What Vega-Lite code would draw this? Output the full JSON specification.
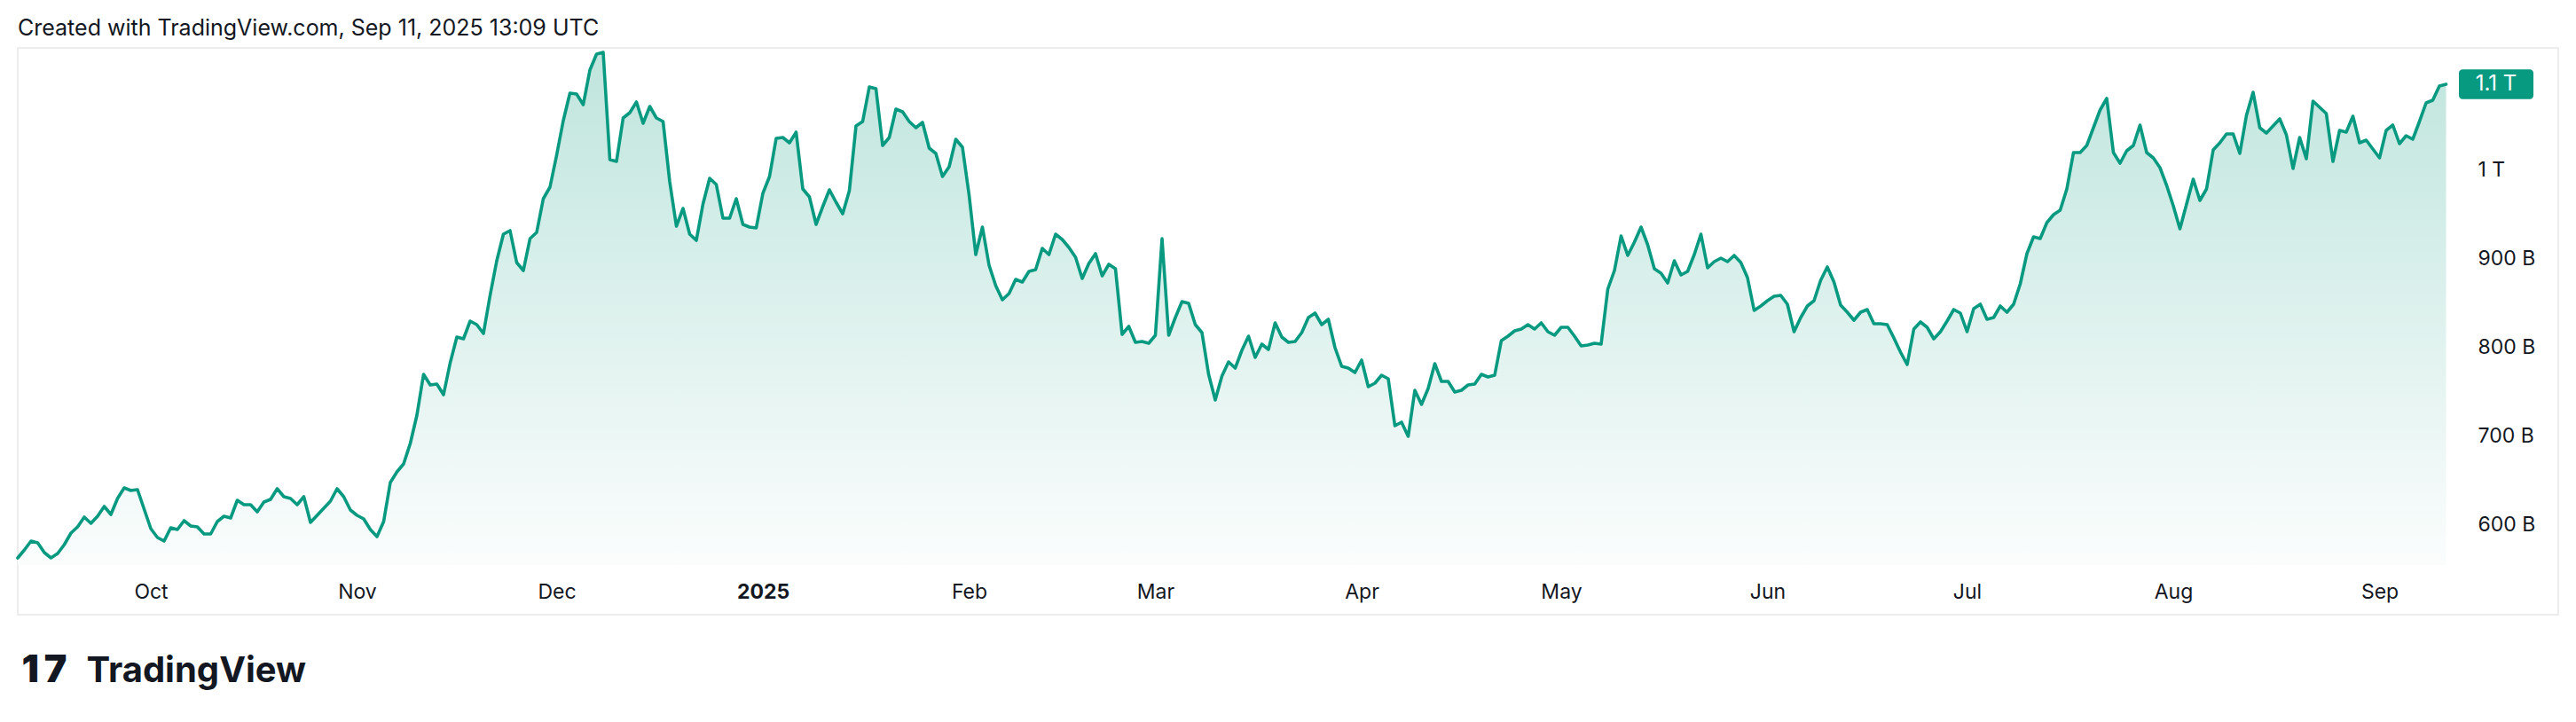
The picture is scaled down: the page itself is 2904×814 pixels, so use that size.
{
"$schema": "https://vega.github.io/schema/vega-lite/v6.json",
"autosize": "none",
"width": 2864,
"height": 639,
"padding": {"left": 20, "top": 54, "right": 20, "bottom": 121},
"background": "#ffffff",
"config": {"view": {"stroke": "#ececec", "strokeWidth": 2}},
"title": {"text": "Created with TradingView.com, Sep 11, 2025 13:09 UTC", "anchor": "start", "frame": "group", "offset": 14, "dy": 25, "baseline": "alphabetic", "font": "Inter", "fontSize": 25, "fontWeight": 400, "color": "#131722"},
"data": {"values": [
{"date":"2024-09-11","cap_b":562},{"date":"2024-09-12","cap_b":571},{"date":"2024-09-13","cap_b":581},{"date":"2024-09-14","cap_b":579},{"date":"2024-09-15","cap_b":568},{"date":"2024-09-16","cap_b":562},{"date":"2024-09-17","cap_b":567},{"date":"2024-09-18","cap_b":577},{"date":"2024-09-19","cap_b":590},{"date":"2024-09-20","cap_b":597},{"date":"2024-09-21","cap_b":608},{"date":"2024-09-22","cap_b":601},{"date":"2024-09-23","cap_b":609},{"date":"2024-09-24","cap_b":620},{"date":"2024-09-25","cap_b":611},{"date":"2024-09-26","cap_b":629},{"date":"2024-09-27","cap_b":641},{"date":"2024-09-28","cap_b":638},{"date":"2024-09-29","cap_b":639},{"date":"2024-09-30","cap_b":617},
{"date":"2024-10-01","cap_b":595},{"date":"2024-10-02","cap_b":585},{"date":"2024-10-03","cap_b":581},{"date":"2024-10-04","cap_b":596},{"date":"2024-10-05","cap_b":594},{"date":"2024-10-06","cap_b":604},{"date":"2024-10-07","cap_b":598},{"date":"2024-10-08","cap_b":597},{"date":"2024-10-09","cap_b":589},{"date":"2024-10-10","cap_b":589},{"date":"2024-10-11","cap_b":603},{"date":"2024-10-12","cap_b":609},{"date":"2024-10-13","cap_b":607},{"date":"2024-10-14","cap_b":627},{"date":"2024-10-15","cap_b":622},{"date":"2024-10-16","cap_b":622},{"date":"2024-10-17","cap_b":614},{"date":"2024-10-18","cap_b":625},{"date":"2024-10-19","cap_b":628},{"date":"2024-10-20","cap_b":640},{"date":"2024-10-21","cap_b":631},{"date":"2024-10-22","cap_b":629},{"date":"2024-10-23","cap_b":622},{"date":"2024-10-24","cap_b":631},{"date":"2024-10-25","cap_b":602},{"date":"2024-10-26","cap_b":610},{"date":"2024-10-27","cap_b":618},{"date":"2024-10-28","cap_b":626},{"date":"2024-10-29","cap_b":640},{"date":"2024-10-30","cap_b":631},{"date":"2024-10-31","cap_b":616},
{"date":"2024-11-01","cap_b":610},{"date":"2024-11-02","cap_b":606},{"date":"2024-11-03","cap_b":594},{"date":"2024-11-04","cap_b":586},{"date":"2024-11-05","cap_b":603},{"date":"2024-11-06","cap_b":647},{"date":"2024-11-07","cap_b":659},{"date":"2024-11-08","cap_b":668},{"date":"2024-11-09","cap_b":691},{"date":"2024-11-10","cap_b":723},{"date":"2024-11-11","cap_b":769},{"date":"2024-11-12","cap_b":757},{"date":"2024-11-13","cap_b":758},{"date":"2024-11-14","cap_b":746},{"date":"2024-11-15","cap_b":782},{"date":"2024-11-16","cap_b":811},{"date":"2024-11-17","cap_b":809},{"date":"2024-11-18","cap_b":829},{"date":"2024-11-19","cap_b":825},{"date":"2024-11-20","cap_b":815},{"date":"2024-11-21","cap_b":858},{"date":"2024-11-22","cap_b":897},{"date":"2024-11-23","cap_b":927},{"date":"2024-11-24","cap_b":931},{"date":"2024-11-25","cap_b":895},{"date":"2024-11-26","cap_b":886},{"date":"2024-11-27","cap_b":922},{"date":"2024-11-28","cap_b":929},{"date":"2024-11-29","cap_b":967},{"date":"2024-11-30","cap_b":980},
{"date":"2024-12-01","cap_b":1016},{"date":"2024-12-02","cap_b":1055},{"date":"2024-12-03","cap_b":1086},{"date":"2024-12-04","cap_b":1085},{"date":"2024-12-05","cap_b":1073},{"date":"2024-12-06","cap_b":1112},{"date":"2024-12-07","cap_b":1130},{"date":"2024-12-08","cap_b":1132},{"date":"2024-12-09","cap_b":1011},{"date":"2024-12-10","cap_b":1009},{"date":"2024-12-11","cap_b":1058},{"date":"2024-12-12","cap_b":1064},{"date":"2024-12-13","cap_b":1076},{"date":"2024-12-14","cap_b":1052},{"date":"2024-12-15","cap_b":1071},{"date":"2024-12-16","cap_b":1058},{"date":"2024-12-17","cap_b":1054},{"date":"2024-12-18","cap_b":986},{"date":"2024-12-19","cap_b":936},{"date":"2024-12-20","cap_b":956},{"date":"2024-12-21","cap_b":927},{"date":"2024-12-22","cap_b":920},{"date":"2024-12-23","cap_b":961},{"date":"2024-12-24","cap_b":990},{"date":"2024-12-25","cap_b":983},{"date":"2024-12-26","cap_b":945},{"date":"2024-12-27","cap_b":945},{"date":"2024-12-28","cap_b":967},{"date":"2024-12-29","cap_b":938},{"date":"2024-12-30","cap_b":935},{"date":"2024-12-31","cap_b":934},
{"date":"2025-01-01","cap_b":973},{"date":"2025-01-02","cap_b":992},{"date":"2025-01-03","cap_b":1035},{"date":"2025-01-04","cap_b":1036},{"date":"2025-01-05","cap_b":1030},{"date":"2025-01-06","cap_b":1042},{"date":"2025-01-07","cap_b":978},{"date":"2025-01-08","cap_b":969},{"date":"2025-01-09","cap_b":938},{"date":"2025-01-10","cap_b":958},{"date":"2025-01-11","cap_b":977},{"date":"2025-01-12","cap_b":963},{"date":"2025-01-13","cap_b":950},{"date":"2025-01-14","cap_b":976},{"date":"2025-01-15","cap_b":1049},{"date":"2025-01-16","cap_b":1054},{"date":"2025-01-17","cap_b":1093},{"date":"2025-01-18","cap_b":1091},{"date":"2025-01-19","cap_b":1027},{"date":"2025-01-20","cap_b":1036},{"date":"2025-01-21","cap_b":1068},{"date":"2025-01-22","cap_b":1065},{"date":"2025-01-23","cap_b":1054},{"date":"2025-01-24","cap_b":1047},{"date":"2025-01-25","cap_b":1053},{"date":"2025-01-26","cap_b":1024},{"date":"2025-01-27","cap_b":1018},{"date":"2025-01-28","cap_b":992},{"date":"2025-01-29","cap_b":1003},{"date":"2025-01-30","cap_b":1034},{"date":"2025-01-31","cap_b":1025},
{"date":"2025-02-01","cap_b":971},{"date":"2025-02-02","cap_b":904},{"date":"2025-02-03","cap_b":935},{"date":"2025-02-04","cap_b":892},{"date":"2025-02-05","cap_b":869},{"date":"2025-02-06","cap_b":853},{"date":"2025-02-07","cap_b":860},{"date":"2025-02-08","cap_b":876},{"date":"2025-02-09","cap_b":873},{"date":"2025-02-10","cap_b":885},{"date":"2025-02-11","cap_b":887},{"date":"2025-02-12","cap_b":911},{"date":"2025-02-13","cap_b":904},{"date":"2025-02-14","cap_b":927},{"date":"2025-02-15","cap_b":921},{"date":"2025-02-16","cap_b":912},{"date":"2025-02-17","cap_b":901},{"date":"2025-02-18","cap_b":877},{"date":"2025-02-19","cap_b":894},{"date":"2025-02-20","cap_b":905},{"date":"2025-02-21","cap_b":880},{"date":"2025-02-22","cap_b":893},{"date":"2025-02-23","cap_b":888},{"date":"2025-02-24","cap_b":814},{"date":"2025-02-25","cap_b":823},{"date":"2025-02-26","cap_b":805},{"date":"2025-02-27","cap_b":806},{"date":"2025-02-28","cap_b":804},
{"date":"2025-03-01","cap_b":813},{"date":"2025-03-02","cap_b":922},{"date":"2025-03-03","cap_b":813},{"date":"2025-03-04","cap_b":833},{"date":"2025-03-05","cap_b":851},{"date":"2025-03-06","cap_b":849},{"date":"2025-03-07","cap_b":825},{"date":"2025-03-08","cap_b":816},{"date":"2025-03-09","cap_b":769},{"date":"2025-03-10","cap_b":740},{"date":"2025-03-11","cap_b":767},{"date":"2025-03-12","cap_b":783},{"date":"2025-03-13","cap_b":776},{"date":"2025-03-14","cap_b":796},{"date":"2025-03-15","cap_b":812},{"date":"2025-03-16","cap_b":788},{"date":"2025-03-17","cap_b":803},{"date":"2025-03-18","cap_b":797},{"date":"2025-03-19","cap_b":827},{"date":"2025-03-20","cap_b":811},{"date":"2025-03-21","cap_b":805},{"date":"2025-03-22","cap_b":806},{"date":"2025-03-23","cap_b":816},{"date":"2025-03-24","cap_b":833},{"date":"2025-03-25","cap_b":838},{"date":"2025-03-26","cap_b":825},{"date":"2025-03-27","cap_b":831},{"date":"2025-03-28","cap_b":799},{"date":"2025-03-29","cap_b":778},{"date":"2025-03-30","cap_b":776},{"date":"2025-03-31","cap_b":771},
{"date":"2025-04-01","cap_b":785},{"date":"2025-04-02","cap_b":755},{"date":"2025-04-03","cap_b":759},{"date":"2025-04-04","cap_b":768},{"date":"2025-04-05","cap_b":764},{"date":"2025-04-06","cap_b":711},{"date":"2025-04-07","cap_b":715},{"date":"2025-04-08","cap_b":699},{"date":"2025-04-09","cap_b":751},{"date":"2025-04-10","cap_b":735},{"date":"2025-04-11","cap_b":753},{"date":"2025-04-12","cap_b":781},{"date":"2025-04-13","cap_b":761},{"date":"2025-04-14","cap_b":761},{"date":"2025-04-15","cap_b":749},{"date":"2025-04-16","cap_b":751},{"date":"2025-04-17","cap_b":757},{"date":"2025-04-18","cap_b":758},{"date":"2025-04-19","cap_b":769},{"date":"2025-04-20","cap_b":766},{"date":"2025-04-21","cap_b":768},{"date":"2025-04-22","cap_b":807},{"date":"2025-04-23","cap_b":812},{"date":"2025-04-24","cap_b":818},{"date":"2025-04-25","cap_b":820},{"date":"2025-04-26","cap_b":825},{"date":"2025-04-27","cap_b":820},{"date":"2025-04-28","cap_b":827},{"date":"2025-04-29","cap_b":817},{"date":"2025-04-30","cap_b":813},
{"date":"2025-05-01","cap_b":822},{"date":"2025-05-02","cap_b":822},{"date":"2025-05-03","cap_b":812},{"date":"2025-05-04","cap_b":801},{"date":"2025-05-05","cap_b":802},{"date":"2025-05-06","cap_b":804},{"date":"2025-05-07","cap_b":803},{"date":"2025-05-08","cap_b":865},{"date":"2025-05-09","cap_b":886},{"date":"2025-05-10","cap_b":925},{"date":"2025-05-11","cap_b":903},{"date":"2025-05-12","cap_b":918},{"date":"2025-05-13","cap_b":935},{"date":"2025-05-14","cap_b":915},{"date":"2025-05-15","cap_b":888},{"date":"2025-05-16","cap_b":883},{"date":"2025-05-17","cap_b":872},{"date":"2025-05-18","cap_b":897},{"date":"2025-05-19","cap_b":881},{"date":"2025-05-20","cap_b":885},{"date":"2025-05-21","cap_b":904},{"date":"2025-05-22","cap_b":927},{"date":"2025-05-23","cap_b":889},{"date":"2025-05-24","cap_b":896},{"date":"2025-05-25","cap_b":900},{"date":"2025-05-26","cap_b":896},{"date":"2025-05-27","cap_b":903},{"date":"2025-05-28","cap_b":895},{"date":"2025-05-29","cap_b":878},{"date":"2025-05-30","cap_b":841},{"date":"2025-05-31","cap_b":846},
{"date":"2025-06-01","cap_b":852},{"date":"2025-06-02","cap_b":857},{"date":"2025-06-03","cap_b":858},{"date":"2025-06-04","cap_b":848},{"date":"2025-06-05","cap_b":817},{"date":"2025-06-06","cap_b":833},{"date":"2025-06-07","cap_b":846},{"date":"2025-06-08","cap_b":852},{"date":"2025-06-09","cap_b":875},{"date":"2025-06-10","cap_b":890},{"date":"2025-06-11","cap_b":873},{"date":"2025-06-12","cap_b":847},{"date":"2025-06-13","cap_b":839},{"date":"2025-06-14","cap_b":830},{"date":"2025-06-15","cap_b":839},{"date":"2025-06-16","cap_b":842},{"date":"2025-06-17","cap_b":826},{"date":"2025-06-18","cap_b":826},{"date":"2025-06-19","cap_b":825},{"date":"2025-06-20","cap_b":810},{"date":"2025-06-21","cap_b":794},{"date":"2025-06-22","cap_b":780},{"date":"2025-06-23","cap_b":820},{"date":"2025-06-24","cap_b":828},{"date":"2025-06-25","cap_b":822},{"date":"2025-06-26","cap_b":809},{"date":"2025-06-27","cap_b":817},{"date":"2025-06-28","cap_b":829},{"date":"2025-06-29","cap_b":842},{"date":"2025-06-30","cap_b":838},
{"date":"2025-07-01","cap_b":817},{"date":"2025-07-02","cap_b":843},{"date":"2025-07-03","cap_b":848},{"date":"2025-07-04","cap_b":831},{"date":"2025-07-05","cap_b":833},{"date":"2025-07-06","cap_b":846},{"date":"2025-07-07","cap_b":839},{"date":"2025-07-08","cap_b":848},{"date":"2025-07-09","cap_b":871},{"date":"2025-07-10","cap_b":905},{"date":"2025-07-11","cap_b":924},{"date":"2025-07-12","cap_b":922},{"date":"2025-07-13","cap_b":940},{"date":"2025-07-14","cap_b":949},{"date":"2025-07-15","cap_b":954},{"date":"2025-07-16","cap_b":978},{"date":"2025-07-17","cap_b":1019},{"date":"2025-07-18","cap_b":1019},{"date":"2025-07-19","cap_b":1027},{"date":"2025-07-20","cap_b":1047},{"date":"2025-07-21","cap_b":1067},{"date":"2025-07-22","cap_b":1080},{"date":"2025-07-23","cap_b":1019},{"date":"2025-07-24","cap_b":1007},{"date":"2025-07-25","cap_b":1021},{"date":"2025-07-26","cap_b":1027},{"date":"2025-07-27","cap_b":1050},{"date":"2025-07-28","cap_b":1019},{"date":"2025-07-29","cap_b":1013},{"date":"2025-07-30","cap_b":1002},{"date":"2025-07-31","cap_b":982},
{"date":"2025-08-01","cap_b":959},{"date":"2025-08-02","cap_b":933},{"date":"2025-08-03","cap_b":961},{"date":"2025-08-04","cap_b":989},{"date":"2025-08-05","cap_b":965},{"date":"2025-08-06","cap_b":978},{"date":"2025-08-07","cap_b":1022},{"date":"2025-08-08","cap_b":1030},{"date":"2025-08-09","cap_b":1040},{"date":"2025-08-10","cap_b":1040},{"date":"2025-08-11","cap_b":1018},{"date":"2025-08-12","cap_b":1061},{"date":"2025-08-13","cap_b":1087},{"date":"2025-08-14","cap_b":1047},{"date":"2025-08-15","cap_b":1041},{"date":"2025-08-16","cap_b":1049},{"date":"2025-08-17","cap_b":1057},{"date":"2025-08-18","cap_b":1039},{"date":"2025-08-19","cap_b":1001},{"date":"2025-08-20","cap_b":1036},{"date":"2025-08-21","cap_b":1012},{"date":"2025-08-22","cap_b":1077},{"date":"2025-08-23","cap_b":1070},{"date":"2025-08-24","cap_b":1063},{"date":"2025-08-25","cap_b":1009},{"date":"2025-08-26","cap_b":1044},{"date":"2025-08-27","cap_b":1042},{"date":"2025-08-28","cap_b":1060},{"date":"2025-08-29","cap_b":1030},{"date":"2025-08-30","cap_b":1033},{"date":"2025-08-31","cap_b":1023},
{"date":"2025-09-01","cap_b":1013},{"date":"2025-09-02","cap_b":1044},{"date":"2025-09-03","cap_b":1050},{"date":"2025-09-04","cap_b":1029},{"date":"2025-09-05","cap_b":1038},{"date":"2025-09-06","cap_b":1034},{"date":"2025-09-07","cap_b":1054},{"date":"2025-09-08","cap_b":1075},{"date":"2025-09-09","cap_b":1078},{"date":"2025-09-10","cap_b":1094},{"date":"2025-09-11","cap_b":1096}
]},
"encoding": {
  "x": {"field": "date", "type": "temporal",
    "scale": {"type": "utc", "domain": [{"year": 2024, "month": 9, "date": 11, "utc": true}, {"year": 2025, "month": 9, "date": 27, "hours": 20, "minutes": 48, "utc": true}]},
    "axis": {"orient": "bottom", "offset": -26,
      "values": [{"year":2024,"month":10,"date":1,"utc":true},{"year":2024,"month":11,"date":1,"utc":true},{"year":2024,"month":12,"date":1,"utc":true},{"year":2025,"month":1,"date":1,"utc":true},{"year":2025,"month":2,"date":1,"utc":true},{"year":2025,"month":3,"date":1,"utc":true},{"year":2025,"month":4,"date":1,"utc":true},{"year":2025,"month":5,"date":1,"utc":true},{"year":2025,"month":6,"date":1,"utc":true},{"year":2025,"month":7,"date":1,"utc":true},{"year":2025,"month":8,"date":1,"utc":true},{"year":2025,"month":9,"date":1,"utc":true}],
      "labelExpr": "utcmonth(datum.value) == 0 ? utcFormat(datum.value, '%Y') : utcFormat(datum.value, '%b')",
      "labelFontWeight": {"condition": {"test": "utcmonth(datum.value) == 0", "value": "bold"}, "value": "normal"},
      "labelBaseline": "middle", "labelAlign": "center", "labelPadding": 0, "ticks": false, "tickSize": 0, "domain": false, "grid": false,
      "labelFont": "Inter", "labelFontSize": 23, "labelColor": "#131722", "labelOverlap": false, "labelFlush": false,
      "title": "TradingView", "titleX": 77, "titleY": 101, "titleAlign": "left", "titleAnchor": "start", "titleBaseline": "alphabetic",
      "titleFont": "Inter", "titleFontSize": 40, "titleFontWeight": "bold", "titleColor": "#131722"}},
  "y": {"field": "cap_b", "type": "quantitative",
    "scale": {"domain": [498, 1137], "nice": false, "zero": false},
    "axis": {"orient": "right", "offset": -91, "values": [600, 700, 800, 900, 1000],
      "labelExpr": "datum.value >= 1000 ? '1 T' : datum.value + ' B'",
      "labelAlign": "left", "labelBaseline": "middle", "labelPadding": 0, "ticks": false, "tickSize": 0, "domain": false, "grid": false,
      "labelFont": "Inter", "labelFontSize": 23, "labelColor": "#131722", "labelOverlap": false, "labelFlush": false,
      "title": "1\u20097", "titleAngle": 0, "titleX": -2769, "titleY": 714, "titleAlign": "left", "titleAnchor": "start", "titleBaseline": "alphabetic",
      "titleFont": "Inter", "titleFontSize": 43, "titleFontWeight": 900, "titleColor": "#131722"}}
},
"layer": [
  {"mark": {"type": "area", "interpolate": "linear",
     "color": {"gradient": "linear", "x1": 0, "y1": 0, "x2": 0, "y2": 1, "stops": [{"offset": 0, "color": "#bfe5dd"}, {"offset": 1, "color": "#fbfdfd"}]}},
   "encoding": {"y2": {"datum": 554}}},
  {"mark": {"type": "line", "color": "#089981", "strokeWidth": 3.6, "strokeJoin": "round", "strokeCap": "round"}},
  {"transform": [{"filter": {"field": "date", "equal": {"year": 2025, "month": 9, "date": 11, "utc": true}}}],
   "mark": {"type": "point", "filled": true, "opacity": 1, "color": "#089981", "size": 40000,
     "shape": "M0.185,-0.168 H0.945 A0.04,0.04 0 0 1 0.985,-0.128 V0.128 A0.04,0.04 0 0 1 0.945,0.168 H0.185 A0.04,0.04 0 0 1 0.145,0.128 V-0.128 A0.04,0.04 0 0 1 0.185,-0.168 Z"}},
  {"transform": [{"filter": {"field": "date", "equal": {"year": 2025, "month": 9, "date": 11, "utc": true}}}],
   "mark": {"type": "text", "dx": 56.5, "align": "center", "baseline": "middle", "font": "Inter", "fontSize": 24, "color": "#ffffff"},
   "encoding": {"text": {"value": "1.1 T"}}}
]
}
